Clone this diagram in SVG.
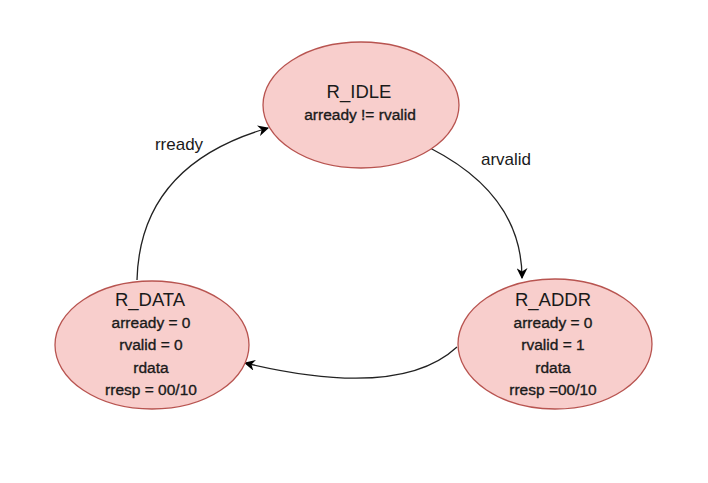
<svg xmlns="http://www.w3.org/2000/svg" width="708" height="483" viewBox="0 0 708 483">
<style>
.st{fill:#f8cecc;stroke:#b85450;stroke-width:1.3}
.t{font-family:"Liberation Sans",Arial,sans-serif;fill:#1a1a1a;text-anchor:middle}
.h{font-size:18.5px}
.s{font-size:15.5px;stroke:#1a1a1a;stroke-width:0.35}
.l{font-size:17px}
.e{fill:none;stroke:#222;stroke-width:1.3}
</style>
<defs>
<marker id="ar" viewBox="0 0 10 10" refX="9" refY="5" markerWidth="11" markerHeight="11" orient="auto" markerUnits="userSpaceOnUse">
<path d="M0,0 L10,5 L0,10 L3,5 Z" fill="#000"/>
</marker>
</defs>
<rect width="708" height="483" fill="#fff"/>
<g id="edges">
<path class="e" d="M137,280 Q140,165 268,128" marker-end="url(#ar)"/>
<path class="e" d="M430,148 Q522,195 522,278" marker-end="url(#ar)"/>
<path class="e" d="M457,347 Q400,400 245,363" marker-end="url(#ar)"/>
<text class="t l" x="179" y="150">rready</text>
<text class="t l" x="506" y="165">arvalid</text>
</g>
<g id="R_IDLE">
<ellipse class="st" cx="361" cy="105" rx="98" ry="63"/>
<text class="t h" x="359" y="98">R_IDLE</text>
<text class="t s" x="360" y="120">arready != rvalid</text>
</g>
<g id="R_DATA">
<ellipse class="st" cx="152" cy="345" rx="97" ry="64"/>
<text class="t h" x="150" y="306">R_DATA</text>
<text class="t s" x="151" y="328">arready = 0</text>
<text class="t s" x="151" y="350">rvalid = 0</text>
<text class="t s" x="151" y="373">rdata</text>
<text class="t s" x="151" y="395">rresp = 00/10</text>
</g>
<g id="R_ADDR">
<ellipse class="st" cx="555" cy="344" rx="97" ry="65"/>
<text class="t h" x="553" y="306">R_ADDR</text>
<text class="t s" x="553" y="328">arready = 0</text>
<text class="t s" x="553" y="350">rvalid = 1</text>
<text class="t s" x="553" y="373">rdata</text>
<text class="t s" x="553" y="395">rresp =00/10</text>
</g>
</svg>
